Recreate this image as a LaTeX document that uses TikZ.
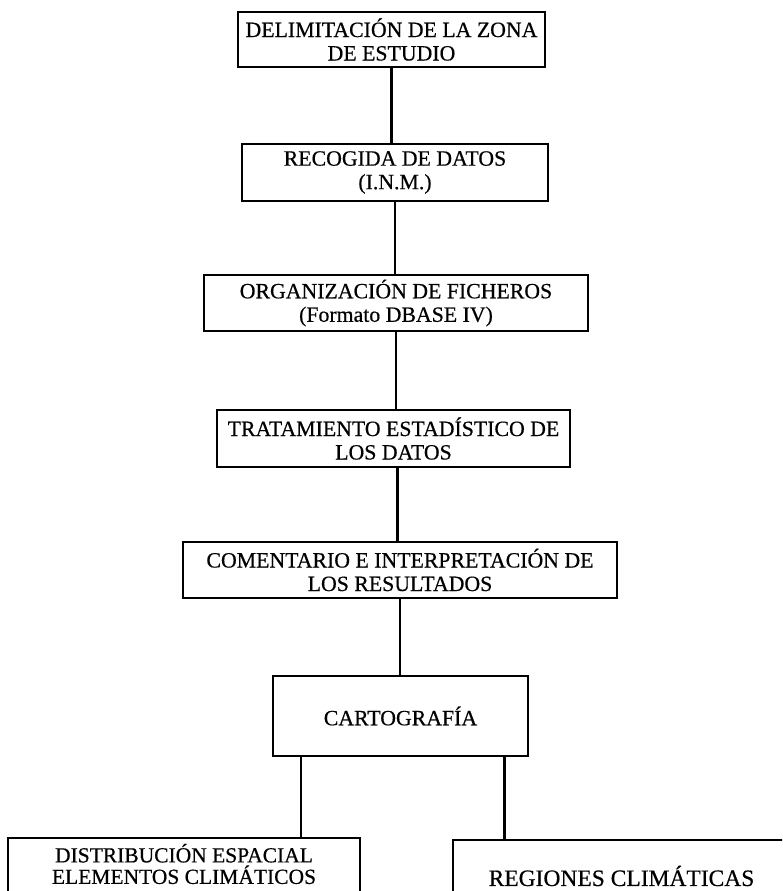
\documentclass[tikz,border=0pt]{standalone}
\usepackage{fontspec}
\setmainfont{Liberation Serif}[FakeBold=0.5]
\begin{document}
\begin{tikzpicture}[x=1pt,y=-1pt,
  box/.style={draw, line width=2.5pt, rectangle, inner sep=0pt, align=center,
    font=\fontsize{21.8}{23.5}\selectfont},
  label/.style={inner sep=0pt, align=center, font=\fontsize{21.5}{21.5}\selectfont},
  link/.style={line width=2.5pt}]
\useasboundingbox (0,0) rectangle (782,891);
\fill[white] (0,0) rectangle (782,891);
\clip (0,0) rectangle (782,891);
\node[box, minimum width=307pt, minimum height=55pt] (b1) at (391.5,39.5) {DELIMITACIÓN DE LA ZONA\\DE ESTUDIO};
\node[box, minimum width=306pt, minimum height=57pt] (b2) at (395,172.5) {RECOGIDA DE DATOS\\(I.N.M.)};
\node[box, minimum width=384pt, minimum height=56pt] (b3) at (396,303) {ORGANIZACIÓN DE FICHEROS\\(Formato DBASE IV)};
\node[box, minimum width=353pt, minimum height=57pt] (b4) at (393.5,438.5) {TRATAMIENTO ESTADÍSTICO DE\\LOS DATOS};
\node[box, minimum width=434pt, minimum height=56pt] (b5) at (400,570) {COMENTARIO E INTERPRETACIÓN DE\\LOS RESULTADOS};
\node[box, minimum width=255pt, minimum height=80pt] (b6) at (400.5,716) {CARTOGRAFÍA};
% bottom-left box (runs off the page bottom)
\draw[line width=2.5pt] (8,838) rectangle (360,905);
\coordinate (b7top) at (184,838);
\node[label] (b7) at (184,864) {DISTRIBUCIÓN ESPACIAL\\ELEMENTOS CLIMÁTICOS};
\node[box, minimum width=337pt, minimum height=72pt, font=\fontsize{23.5}{24}\selectfont] (b8) at (621.5,876) {REGIONES CLIMÁTICAS};
\draw[link] (b1.south) -- (b1.south |- b2.north);
\draw[link] (b2.south) -- (b2.south |- b3.north);
\draw[link] (b3.south) -- (b3.south |- b4.north);
\draw[link] ([xshift=4pt]b4.south) -- ([xshift=4pt]b4.south |- b5.north);
\draw[link] (b5.south) -- (b5.south |- b6.north);
\path (b6.south west) ++(29,0) coordinate (c1);
\path (b6.south east) ++(-25,0) coordinate (c2);
\draw[link] (c1) -- (c1 |- b7top);
\draw[link] (c2) -- (c2 |- b8.north);
\end{tikzpicture}
\end{document}
